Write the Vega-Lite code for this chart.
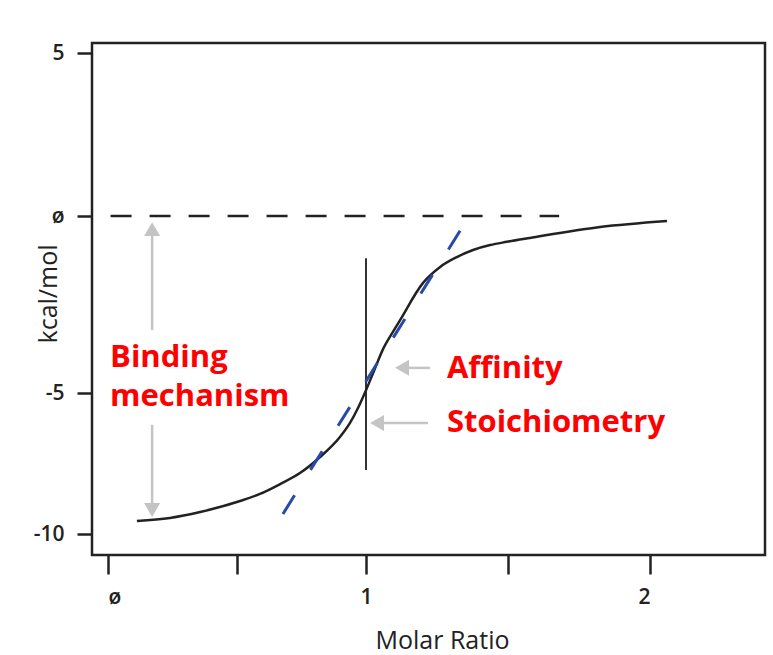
{
  "$schema": "https://vega.github.io/schema/vega-lite/v6.json",
  "autosize": {"type": "none"},
  "padding": {"left": 92, "top": 43, "right": 8, "bottom": 100},
  "width": 673,
  "height": 512,
  "background": "white",
  "config": {
    "view": {"stroke": "#222222", "strokeWidth": 2.5},
    "font": "Open Sans"
  },
  "encoding": {
    "x": {
      "field": "x", "type": "quantitative",
      "scale": {"type": "linear", "domain": [0, 1, 2], "range": [16, 274, 558], "zero": false, "nice": false},
      "axis": {
        "values": [0, 0.5, 1, 1.5, 2],
        "labelExpr": "datum.value === 0 ? 'ø' : (datum.value % 1 === 0 ? '' + datum.value : '')",
        "title": "Molar Ratio", "titleFont": "Open Sans", "titleFontSize": 25, "titleFontWeight": "normal", "titleColor": "#222222", "titleX": 350, "titleY": 85, "titleBaseline": "middle",
        "labelFont": "Open Sans", "labelFontSize": 21, "labelFontWeight": 600, "labelColor": "#222222", "labelPadding": 12,
        "tickSize": 19, "tickWidth": 2.5, "tickColor": "#222222", "domain": false, "grid": false
      }
    },
    "y": {
      "field": "y", "type": "quantitative",
      "scale": {"type": "linear", "domain": [-10, -5, 0, 5], "range": [491, 350, 173, 10], "zero": false, "nice": false},
      "axis": {
        "values": [-10, -5, 0, 5],
        "labelExpr": "datum.value === 0 ? 'ø' : '' + datum.value",
        "title": "kcal/mol", "titleFont": "Open Sans", "titleFontSize": 25, "titleFontWeight": "normal", "titleColor": "#222222", "titleX": -44, "titleBaseline": "middle",
        "labelFont": "Open Sans", "labelFontSize": 21, "labelFontWeight": 600, "labelColor": "#222222", "labelPadding": 13,
        "tickSize": 15, "tickWidth": 2.5, "tickColor": "#222222", "domain": false, "grid": false
      }
    }
  },
  "layer": [
    {
      "data": {"values": [{"x": 0.01, "y": 0}, {"x": 1.68, "y": 0}]},
      "mark": {"type": "line", "color": "#222222", "strokeWidth": 2.5, "strokeDash": [21, 18]}
    },
    {
      "data": {"values": [
        {"x": 0.171, "y": -0.37, "y2": -3.22},
        {"x": 0.171, "y": -6.13, "y2": -9.15}
      ]},
      "mark": {"type": "rule", "color": "#c4c4c4", "strokeWidth": 2.5},
      "encoding": {"y2": {"field": "y2"}}
    },
    {
      "data": {"values": [
        {"y": -4.29, "x": 1.127, "x2": 1.225},
        {"y": -6.06, "x": 1.039, "x2": 1.218}
      ]},
      "mark": {"type": "rule", "color": "#c4c4c4", "strokeWidth": 2.5},
      "encoding": {"x2": {"field": "x2"}}
    },
    {
      "data": {"values": [
        {"x": 0.171, "y": -0.37, "shape": "triangle-up"},
        {"x": 0.171, "y": -9.15, "shape": "triangle-down"},
        {"x": 1.127, "y": -4.29, "shape": "triangle-left"},
        {"x": 1.039, "y": -6.06, "shape": "triangle-left"}
      ]},
      "mark": {"type": "point", "filled": true, "color": "#c4c4c4", "opacity": 1, "size": 256, "strokeWidth": 0},
      "encoding": {"shape": {"field": "shape", "type": "nominal", "scale": null, "legend": null}}
    },
    {
      "data": {"values": [{"x": 1, "y": -1.19, "y2": -7.73}]},
      "mark": {"type": "rule", "color": "#333333", "strokeWidth": 2},
      "encoding": {"y2": {"field": "y2"}}
    },
    {
      "data": {"values": [
        {"x": 0.112, "y": -9.54},
        {"x": 0.240, "y": -9.43},
        {"x": 0.357, "y": -9.22},
        {"x": 0.512, "y": -8.83},
        {"x": 0.589, "y": -8.58},
        {"x": 0.667, "y": -8.23},
        {"x": 0.744, "y": -7.84},
        {"x": 0.822, "y": -7.27},
        {"x": 0.899, "y": -6.56},
        {"x": 0.938, "y": -6.06},
        {"x": 0.969, "y": -5.53},
        {"x": 1.000, "y": -4.92},
        {"x": 1.028, "y": -4.38},
        {"x": 1.060, "y": -3.76},
        {"x": 1.092, "y": -3.31},
        {"x": 1.120, "y": -2.94},
        {"x": 1.201, "y": -1.89},
        {"x": 1.261, "y": -1.44},
        {"x": 1.320, "y": -1.16},
        {"x": 1.377, "y": -0.96},
        {"x": 1.437, "y": -0.82},
        {"x": 1.496, "y": -0.73},
        {"x": 1.577, "y": -0.62},
        {"x": 1.824, "y": -0.31},
        {"x": 2.060, "y": -0.14}
      ]},
      "mark": {"type": "line", "color": "#222222", "strokeWidth": 2.5, "interpolate": "monotone"}
    },
    {
      "data": {"values": [{"x": 0.678, "y": -9.29}, {"x": 1.342, "y": -0.28}]},
      "mark": {"type": "line", "color": "#2a48a8", "strokeWidth": 3, "strokeDash": [22, 30]}
    },
    {
      "data": {"values": [
        {"x": 0.008, "y": -4.27, "label": "Binding"},
        {"x": 0.008, "y": -5.46, "label": "mechanism"},
        {"x": 1.285, "y": -4.58, "label": "Affinity"},
        {"x": 1.285, "y": -6.38, "label": "Stoichiometry"}
      ]},
      "mark": {"type": "text", "color": "#ff0000", "font": "Open Sans", "fontWeight": "bold", "fontSize": 31, "align": "left", "baseline": "alphabetic"},
      "encoding": {"text": {"field": "label"}}
    }
  ]
}
